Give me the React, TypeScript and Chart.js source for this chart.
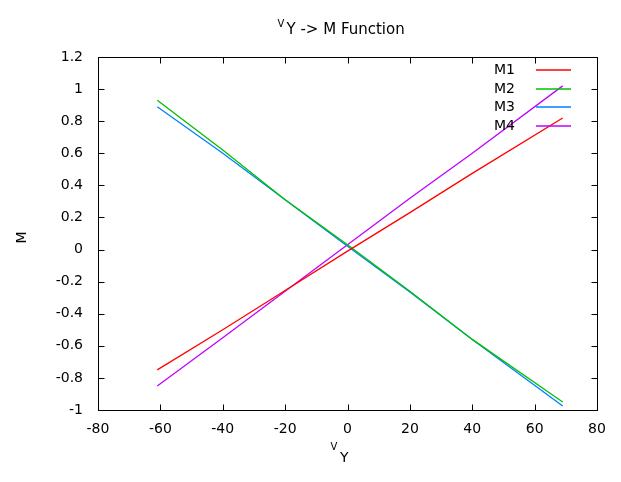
import { useRef, useEffect } from "react";
import { Chart, registerables } from "chart.js";

Chart.register(...registerables);

const FONT = "'DejaVu Sans', sans-serif";

// V_Y sample positions and the four M curves
const vY = [-61, -40, -20, 0, 20, 40, 69];
const m1 = [-0.75, -0.5, -0.255, -0.01, 0.23, 0.475, 0.82];
const m2 = [0.93, 0.62, 0.31, 0.03, -0.26, -0.56, -0.95];
const m3 = [0.89, 0.6, 0.31, 0.02, -0.265, -0.56, -0.975];
const m4 = [-0.85, -0.55, -0.26, 0.03, 0.32, 0.6, 1.02];

const seriesNames = ["M1", "M2", "M3", "M4"];
const seriesValues = [m1, m2, m3, m4];
const seriesColors = ["#ff0000", "#00c000", "#0080ff", "#c000ff"];

const xTicks = [-80, -60, -40, -20, 0, 20, 40, 60, 80];
const yTicks = [-1, -0.8, -0.6, -0.4, -0.2, 0, 0.2, 0.4, 0.6, 0.8, 1, 1.2];

// gnuplot look: frame, inward mirrored ticks, key, title and axis labels
const gnuplotDecor = {
  id: "gnuplotDecor",
  afterDatasetsDraw(chart: Chart) {
    const { ctx, chartArea: a, scales } = chart;
    const L = Math.round(a.left) + 0.5;
    const R = Math.round(a.right) + 0.5;
    const T = Math.round(a.top) + 0.5;
    const B = Math.round(a.bottom) + 0.5;
    ctx.save();
    ctx.strokeStyle = "#000";
    ctx.lineWidth = 1;
    ctx.strokeRect(L, T, R - L, B - T);
    ctx.beginPath();
    xTicks.forEach((v) => {
      const px = Math.round(scales.x.getPixelForValue(v)) + 0.5;
      ctx.moveTo(px, B);
      ctx.lineTo(px, B - 6);
      ctx.moveTo(px, T);
      ctx.lineTo(px, T + 6);
    });
    yTicks.forEach((v) => {
      const py = Math.round(scales.y.getPixelForValue(v)) + 0.5;
      ctx.moveTo(L, py);
      ctx.lineTo(L + 6, py);
      ctx.moveTo(R, py);
      ctx.lineTo(R - 6, py);
    });
    ctx.stroke();

    // key
    ctx.font = `14px ${FONT}`;
    ctx.textAlign = "right";
    ctx.textBaseline = "middle";
    seriesNames.forEach((name, i) => {
      const y = Math.round(a.top + 13 + i * 18.5);
      ctx.fillStyle = "#000";
      ctx.fillText(name, a.right - 82, y);
      ctx.beginPath();
      ctx.strokeStyle = seriesColors[i];
      ctx.lineWidth = 1.5;
      ctx.moveTo(a.right - 61, y);
      ctx.lineTo(a.right - 26, y);
      ctx.stroke();
    });
    ctx.restore();
  },
  afterDraw(chart: Chart) {
    const { ctx, chartArea: a } = chart;
    const cx = (a.left + a.right) / 2;
    ctx.save();
    ctx.fillStyle = "#000";
    ctx.textAlign = "left";
    ctx.textBaseline = "alphabetic";

    // title: V_Y -> M Function
    ctx.font = `10px ${FONT}`;
    ctx.fillText("V", cx - 70, 27);
    ctx.font = `15px ${FONT}`;
    ctx.fillText("Y -> M Function", cx - 61, 33.5);

    // x label: V_Y
    ctx.font = `10px ${FONT}`;
    ctx.fillText("V", cx - 17, 450);
    ctx.font = `14px ${FONT}`;
    ctx.fillText("Y", cx - 7.5, 462);

    // y label
    ctx.translate(22, (a.top + a.bottom) / 2 + 4);
    ctx.rotate(-Math.PI / 2);
    ctx.textAlign = "center";
    ctx.textBaseline = "middle";
    ctx.font = `14px ${FONT}`;
    ctx.fillText("M", 0, 0);
    ctx.restore();
  },
};

export default function App() {
  const canvasRef = useRef<HTMLCanvasElement>(null);

  useEffect(() => {
    document.body.style.margin = "0";
    const canvas = canvasRef.current;
    if (!canvas) return;

    const chart = new Chart(canvas, {
      type: "line",
      data: {
        datasets: seriesNames.map((name, i) => ({
          label: name,
          data: vY.map((x, j) => ({ x, y: seriesValues[i][j] })),
          borderColor: seriesColors[i],
          backgroundColor: seriesColors[i],
          borderWidth: 1.3,
          pointRadius: 0,
          tension: 0,
          fill: false,
        })),
      },
      options: {
        responsive: true,
        maintainAspectRatio: false,
        animation: false,
        layout: { padding: { top: 57, right: 24, left: 0, bottom: 0 } },
        plugins: {
          legend: { display: false },
          title: { display: false },
          tooltip: { enabled: false },
        },
        scales: {
          x: {
            type: "linear",
            min: -80,
            max: 80,
            grid: { display: false, drawTicks: false },
            border: { display: false },
            afterBuildTicks: (scale: any) => {
              scale.ticks = xTicks.map((v) => ({ value: v }));
            },
            afterFit: (scale: any) => {
              scale.height = 72;
            },
            ticks: {
              font: { family: FONT, size: 14 },
              color: "#000",
              padding: 11,
              autoSkip: false,
              maxRotation: 0,
              callback: (v: any) => String(v),
            },
          },
          y: {
            type: "linear",
            min: -1,
            max: 1.2,
            grid: { display: false, drawTicks: false },
            border: { display: false },
            afterBuildTicks: (scale: any) => {
              scale.ticks = yTicks.map((v) => ({ value: v }));
            },
            afterFit: (scale: any) => {
              scale.width = 98;
            },
            ticks: {
              font: { family: FONT, size: 14 },
              color: "#000",
              padding: 15,
              autoSkip: false,
              callback: (v: any) => String(v),
            },
          },
        },
      },
      plugins: [gnuplotDecor],
    });

    return () => chart.destroy();
  }, []);

  return (
    <div style={{ width: 621, height: 482, position: "relative", background: "#fff" }}>
      <canvas ref={canvasRef} />
    </div>
  );
}
